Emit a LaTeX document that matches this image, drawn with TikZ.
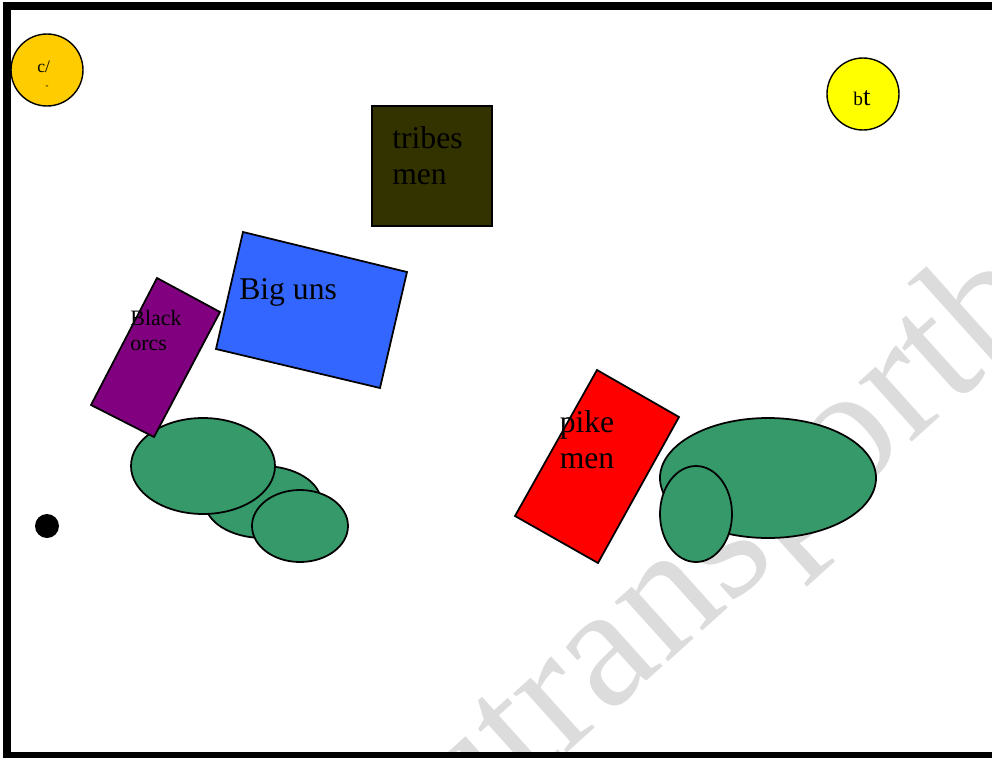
\documentclass[tikz,border=0pt]{standalone}
\usepackage{fontspec}
\setmainfont{Liberation Serif}
\definecolor{markerorange}{HTML}{FFCC00}
\definecolor{markeryellow}{HTML}{FFFF00}
\definecolor{tribesolive}{HTML}{333300}
\definecolor{bigunsblue}{HTML}{3366FF}
\definecolor{orcspurple}{HTML}{800080}
\definecolor{pikered}{HTML}{FF0000}
\definecolor{woodgreen}{HTML}{36996A}
\definecolor{watermarkgrey}{HTML}{DCDCDC}

\begin{document}
\begin{tikzpicture}[
  x=0.02cm,
  y=-0.02cm,
  line join=miter,
  unit/.style={draw=black,line width=1pt},
  wood/.style={draw=black,line width=1pt,fill=woodgreen},
  marker/.style={draw=black,line width=0.8pt},
  label/.style={inner sep=0pt,font=\fontsize{18}{20.5}\selectfont},
  frame/.style={draw=black,line width=4.5pt}
]
  \useasboundingbox (0,0) rectangle (992,758);

  % Faint watermark behind everything, cut at the page edge.
  \begin{scope}
    \clip (0,0) rectangle (992,758);
    \node[anchor=base west,inner sep=0pt,rotate=42,text=watermarkgrey,
      font=\fontsize{99}{99}\selectfont] (watermark) at (464,846) {utransportbe};
  \end{scope}

  % Corner markers.
  \draw[marker,fill=markerorange] (47,70) circle[radius=36];
  \node[anchor=base west,inner sep=0pt,font=\fontsize{10}{12}\selectfont] (cmark) at (37,72) {c/};
  \node[inner sep=0pt,font=\fontsize{5}{6}\selectfont\bfseries] (cdot) at (47,87) {-};
  \draw[marker,fill=markeryellow] (863,94) circle[radius=36];
  \node[anchor=base west,inner sep=0pt] (bmark) at (853,105)
    {\fontsize{11}{12}\selectfont b\fontsize{15}{16}\selectfont t};

  % Woods.
  \path[wood] (263,502) ellipse[x radius=58,y radius=36];
  \path[wood] (203,466) ellipse[x radius=72,y radius=48];
  \path[wood] (300,526) ellipse[x radius=48,y radius=36];
  \path[wood] (768,478) ellipse[x radius=108,y radius=60];
  \path[wood] (696,514) ellipse[x radius=36,y radius=48];

  % Units.
  \path[unit,fill=tribesolive] (372,106) rectangle (492,226);
  \node[label,anchor=base west,text width=100,align=left] (tribes) at (392,148) {tribes\\men};

  \path[unit,fill=bigunsblue] (243,232) -- (407,272) -- (380,388) -- (216,349) -- cycle;
  \node[label,anchor=base west] (biguns) at (239,299) {Big uns};

  \path[unit,fill=orcspurple] (157,278) -- (220,312) -- (154,437) -- (91,405) -- cycle;
  \node[inner sep=0pt,anchor=base west,text width=60,align=left,
    font=\fontsize{12.5}{14.7}\selectfont] (orcs) at (130,325) {Black\\orcs};

  \path[unit,fill=pikered] (597,370) -- (679,417) -- (598,563) -- (515,516) -- cycle;
  \node[label,anchor=base,text width=80,align=center] (pike) at (587,432) {pike\\men};

  \fill (47,526) circle[radius=12];

  % Board edge, open on the right.
  \draw[frame] (1000,6) -- (7,6) -- (7,756) -- (1000,756);
\end{tikzpicture}
\end{document}
